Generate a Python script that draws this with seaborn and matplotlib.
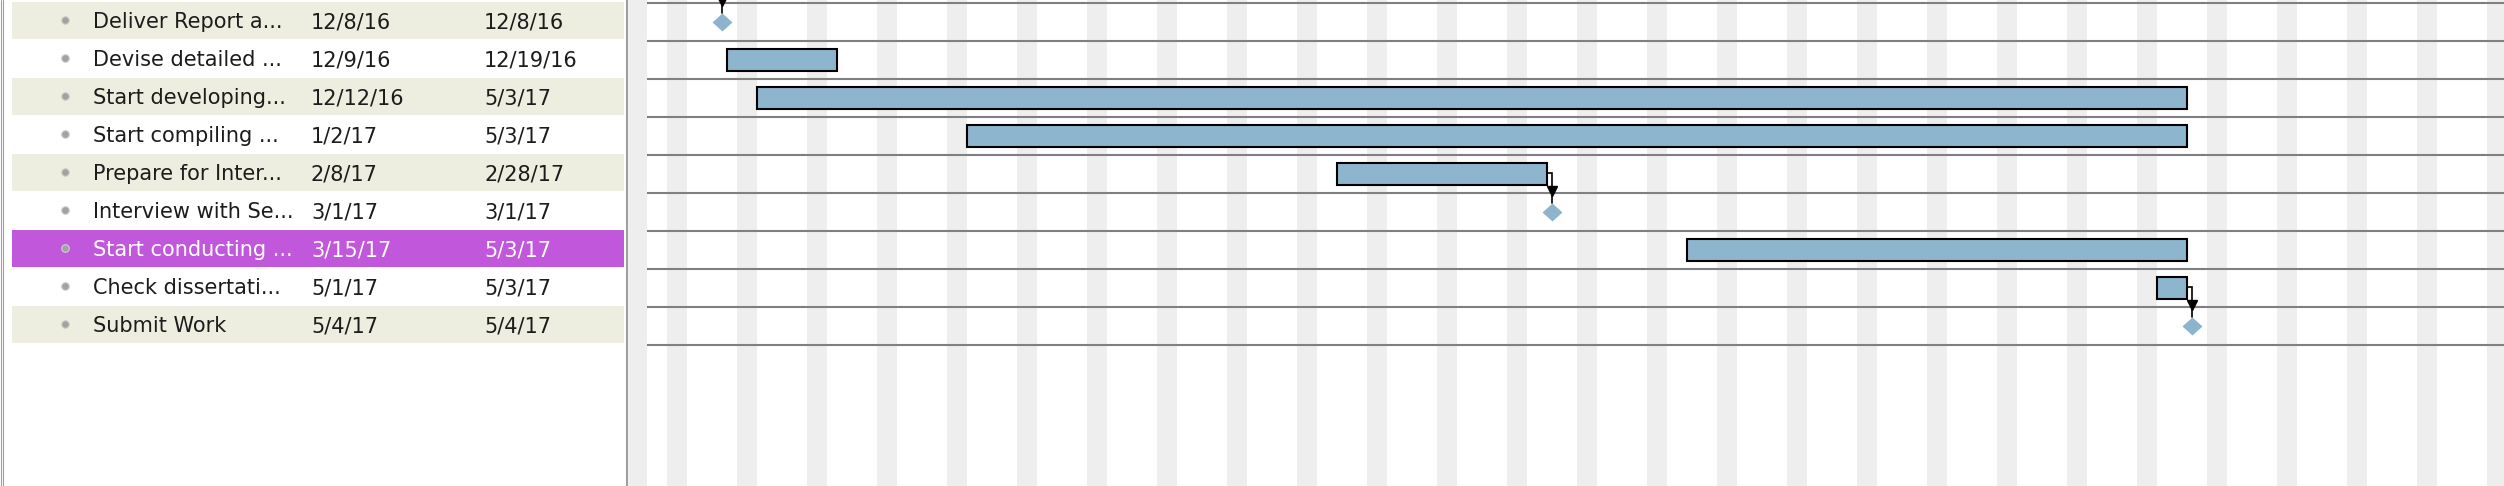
import numpy as np
import pandas as pd
import matplotlib
matplotlib.use("Agg")
import matplotlib.pyplot as plt
import matplotlib.dates as mdates
import seaborn as sns

# Task table shown in the left panel
task_names = ["Deliver Report a...", "Devise detailed ...", "Start developing...",
              "Start compiling ...", "Prepare for Inter...", "Interview with Se...",
              "Start conducting ...", "Check dissertati...", "Submit Work"]
start_labels = ["12/8/16", "12/9/16", "12/12/16", "1/2/17", "2/8/17",
                "3/1/17", "3/15/17", "5/1/17", "5/4/17"]
end_labels = ["12/8/16", "12/19/16", "5/3/17", "5/3/17", "2/28/17",
              "3/1/17", "5/3/17", "5/3/17", "5/4/17"]
is_milestone = [True, False, False, False, False, True, False, False, True]
# (predecessor row, successor row); -1 is a task above the visible area
links = [(-1, 0), (4, 5), (7, 8)]
selected_row = 6

# Layout of the screenshot (pixels)
W, H, DPI = 2504, 486, 100
ROW_PX, ROW0_PX, DAY_PX = 38, 22, 10
SPLIT_PX = 628
view_start = pd.Timestamp("2016-12-01")

BAR_BLUE = "#8db5ce"
BEIGE = "#eeeee0"
PURPLE = "#c157db"
WEEKEND = "#eeeeee"
ROWLINE = "#808080"

sns.set_theme(style="white")
plt.rcParams["font.family"] = ["DejaVu Sans"]

starts = pd.to_datetime(start_labels, format="%m/%d/%y")
ends = pd.to_datetime(end_labels, format="%m/%d/%y")
start_num = mdates.date2num(starts)
end_num = mdates.date2num(ends) + 1  # end day is inclusive
rows = np.arange(len(task_names))

y_top = -ROW0_PX / ROW_PX
y_bot = (H - ROW0_PX) / ROW_PX

fig = plt.figure(figsize=(W / DPI, H / DPI), dpi=DPI)
fig.patch.set_facecolor("white")

### Left task table ###
ax_t = fig.add_axes([0, 0, SPLIT_PX / W, 1])
ax_t.set_xlim(0, SPLIT_PX)
ax_t.set_ylim(y_bot, y_top)
ax_t.axis("off")

off = -0.035
for i in rows:
    if i == selected_row:
        band = PURPLE
    elif i % 2 == 0:
        band = BEIGE
    else:
        band = None
    if band:
        ax_t.axhspan(i - 0.5 + off, i + 0.49 + off, xmin=12 / SPLIT_PX,
                     xmax=624 / SPLIT_PX, color=band, lw=0, zorder=1)
    txt_color = "white" if i == selected_row else "#1c1c1c"
    yb = i + 0.17
    ax_t.text(93, yb, task_names[i], fontsize=15, color=txt_color, va="baseline", zorder=3)
    ax_t.text(311, yb, start_labels[i], fontsize=15, color=txt_color, va="baseline", zorder=3)
    ax_t.text(484, yb, end_labels[i], fontsize=15, color=txt_color, va="baseline", zorder=3)

ax_t.scatter(np.full(len(rows), 65), rows - 0.05, s=30, color="#a2a2a2",
             edgecolor="#cfcfcf", linewidth=0.8, zorder=3)

ax_t.axvline(0.5, color="#a0a0a0", lw=0.8)
ax_t.axvline(3.2, color="#a0a0a0", lw=0.8)
ax_t.axvline(SPLIT_PX - 1, color="#a0a0a0", lw=1.5)

### Gantt chart ###
ax = fig.add_axes([SPLIT_PX / W, 0, 1 - SPLIT_PX / W, 1])
x0 = mdates.date2num(view_start) - 1.85
x1 = x0 + (W - SPLIT_PX) / DAY_PX
ax.set_xlim(x0, x1)
ax.set_ylim(y_bot, y_top)
ax.axis("off")

# gutter and weekends
ax.axvspan(x0, mdates.date2num(view_start), color=WEEKEND, lw=0, zorder=0)
saturdays = pd.date_range("2016-11-26", "2017-06-10", freq="W-SAT")
for sat in mdates.date2num(saturdays):
    ax.axvspan(sat, sat + 2, color=WEEKEND, lw=0, zorder=0)

ax.hlines(np.arange(len(rows) + 1) - 0.5, mdates.date2num(view_start), x1,
          color=ROWLINE, lw=1.5, zorder=1)

task_mask = ~np.array(is_milestone)
ax.barh(rows[task_mask], end_num[task_mask] - start_num[task_mask],
        left=start_num[task_mask], height=0.553, color=BAR_BLUE,
        edgecolor="black", linewidth=1.5, zorder=3)

ms_mask = np.array(is_milestone)
diamond = [(-1, 0), (0, 0.9), (1, 0), (0, -0.9), (-1, 0)]
sns.scatterplot(x=start_num[ms_mask] + 0.5, y=rows[ms_mask], marker=diamond,
                s=207, color="#8cb4cd", linewidth=0, ax=ax, legend=False, zorder=4)

# dependency connectors
half_d = 9 / ROW_PX
for pred, succ in links:
    mx = start_num[succ] + 0.5
    if pred >= 0:
        yb = pred - 1 / ROW_PX
        ax.plot([end_num[pred], mx, mx], [yb, yb, succ - half_d],
                color="black", lw=1.2, zorder=5, solid_joinstyle="miter")
    else:
        ax.plot([mx, mx], [y_top, succ - half_d], color="black", lw=1.2, zorder=5)
    ax.plot(mx, succ - 0.54, marker="v", ms=7.2, color="black", zorder=6)

fig.savefig("out.png", dpi=DPI, facecolor="white")
